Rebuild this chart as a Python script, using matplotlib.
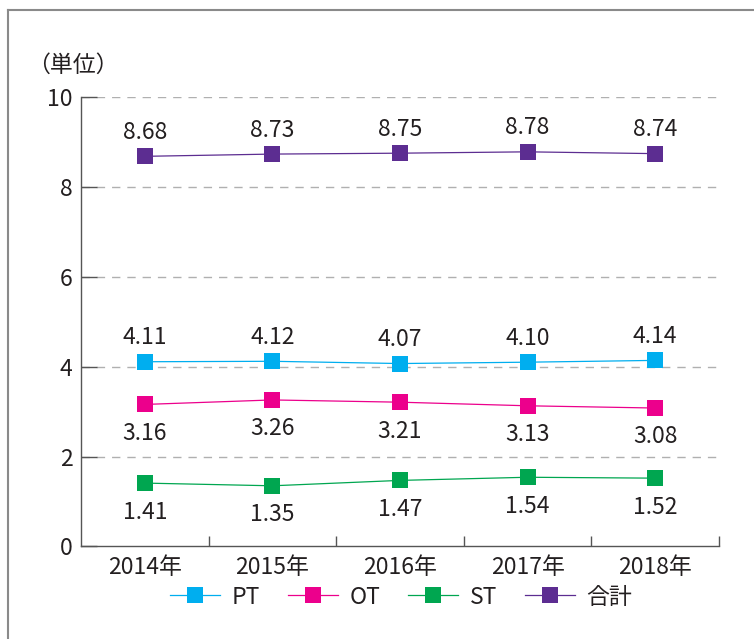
import matplotlib
matplotlib.use("Agg")
import matplotlib.pyplot as plt
from matplotlib.lines import Line2D

plt.rcParams['font.family'] = ['Noto Sans CJK JP', 'DejaVu Sans']

years = ['2014年', '2015年', '2016年', '2017年', '2018年']
pt = [4.11, 4.12, 4.07, 4.10, 4.14]
ot = [3.16, 3.26, 3.21, 3.13, 3.08]
st = [1.41, 1.35, 1.47, 1.54, 1.52]
total = [8.68, 8.73, 8.75, 8.78, 8.74]

series = [
    ('PT', pt, '#00aeef', 'above'),
    ('OT', ot, '#ec008c', 'below'),
    ('ST', st, '#00a650', 'below'),
    ('合計', total, '#5c2d91', 'above'),
]

text_color = '#231f20'
fs = 16.5

fig = plt.figure(figsize=(7.54, 6.39), dpi=100)
ax = fig.add_axes([0.1074, 0.1448, 0.8462, 0.7034])

x = list(range(len(years)))
for name, vals, color, side in series:
    ax.plot(x, vals, color=color, lw=0.9, marker='s', markersize=12,
            markeredgewidth=0, label=name, zorder=3)
    for xi, v in zip(x, vals):
        dy = 12.5 if side == 'above' else -25.5
        ax.annotate(f'{v:.2f}', (xi, v), xytext=(0, dy), textcoords='offset points',
                    ha='center', va='baseline', fontsize=fs, color=text_color)

ax.set_xlim(-0.5, 4.5)
ax.set_ylim(0, 10)
ax.set_yticks([0, 2, 4, 6, 8, 10])
ax.set_xticks([0.5, 1.5, 2.5, 3.5, 4.5])
ax.set_xticklabels([])
ax.set_xticks(x, minor=True)
ax.set_xticklabels(years, minor=True)
ax.tick_params(axis='x', which='major', direction='in', length=7, width=1, color='#555555')
ax.tick_params(axis='x', which='minor', length=0, pad=7, labelsize=fs, labelcolor=text_color)
ax.tick_params(axis='y', direction='in', length=11.5, width=1, color='#555555',
               pad=6, labelsize=fs, labelcolor=text_color)

for y in [2, 4, 6, 8, 10]:
    ax.axhline(y, color='#b0b0b0', lw=1, dashes=(6, 5), zorder=1)

for side in ['top', 'right']:
    ax.spines[side].set_visible(False)
for side in ['left', 'bottom']:
    ax.spines[side].set_color('#555555')
    ax.spines[side].set_linewidth(1)

fig.text(0.036, 1 - 65 / 639, '（単位）', fontsize=fs, color=text_color,
         ha='left', va='center')

fig.legend(loc='center', bbox_to_anchor=(0.532, 1 - 597 / 639), ncol=4, frameon=False,
           fontsize=fs, handlelength=2.2, handletextpad=0.5, columnspacing=1.2,
           labelcolor=text_color)

# frame (top and left edges)
fig.add_artist(Line2D([8 / 754, 8 / 754], [0, 1 - 10 / 639], color='#8a8a8a', lw=1.5))
fig.add_artist(Line2D([8 / 754, 1], [1 - 10 / 639, 1 - 10 / 639], color='#8a8a8a', lw=1.5))

fig.savefig('out.png', dpi=100)
